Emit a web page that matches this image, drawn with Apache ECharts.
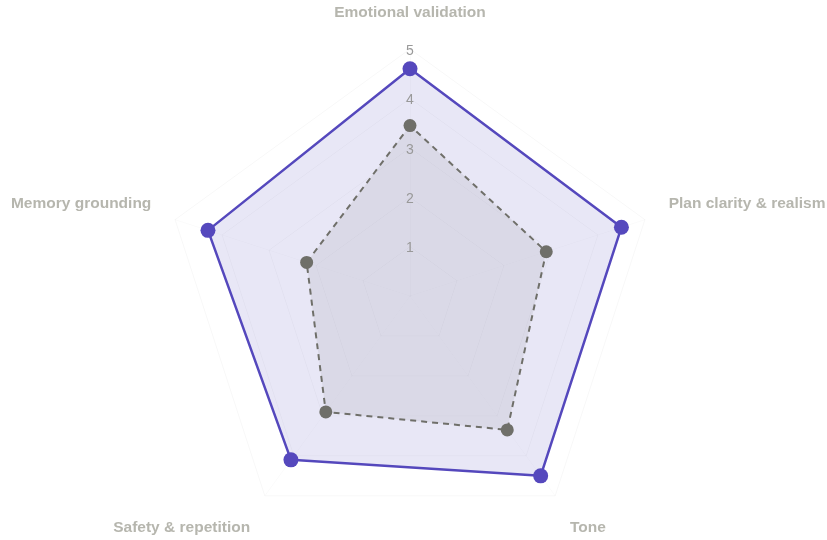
<!DOCTYPE html>
<html>
<head>
<meta charset="utf-8">
<script src="https://cdn.jsdelivr.net/npm/echarts@6/dist/echarts.min.js"></script>
<style>
    html,body{margin:0;padding:0;background:#fff;}
    #chart{width:827px;height:540px;}
</style>
</head>
<body>
<div id="chart"></div>
<script>
// clockwise from the top
var indicators = ['Emotional validation', 'Plan clarity & realism', 'Tone', 'Safety & repetition', 'Memory grounding'];
var nameStyles = ['top', 'side', 'bottom', 'bottom', 'side'];
var scoreValues = [4.6, 4.5, 4.5, 4.1, 4.3];
var baselineValues = [3.45, 2.9, 3.35, 2.9, 2.2];
var tickLabels = [1, 2, 3, 4, 5];
var maxValue = 5;

(function(){
    var mychart = echarts.init(document.getElementById('chart'));
    var cx = 410, cy = 296, r = 247;
    var textFont = 'Liberation Sans, Arial, sans-serif';
    // echarts lays radar axes out counter-clockwise, so walk the lists backwards after the first
    var order = [0, 4, 3, 2, 1];
    function ccw(arr){
        return order.map(function(i){ return arr[i]; });
    }

    mychart.setOption({
        animation: false,
        grid: {
            left: cx,
            top: cy - r + 2,
            width: 1,
            height: r,
            containLabel: false
        },
        xAxis: { type: 'value', show: false },
        yAxis: {
            type: 'value',
            min: 0,
            max: maxValue,
            interval: 1,
            axisLine: { show: false },
            axisTick: { show: false },
            splitLine: { show: false },
            axisLabel: {
                showMinLabel: false,
                align: 'center',
                margin: 0,
                color: '#999999',
                fontSize: 14,
                fontFamily: textFont,
                formatter: function(v){
                    return tickLabels.indexOf(v) >= 0 ? String(v) : '';
                }
            },
            z: 10
        },
        radar: {
            center: [cx, cy],
            radius: r,
            startAngle: 90,
            splitNumber: 5,
            shape: 'polygon',
            nameGap: 25,
            indicator: ccw(indicators).map(function(n){
                return { name: n, max: maxValue, min: 0 };
            }),
            axisName: {
                color: '#b6b6ae',
                fontSize: 15.5,
                fontWeight: 'bold',
                fontFamily: textFont,
                formatter: function(name){
                    var k = nameStyles[indicators.indexOf(name)];
                    return '{' + k + '|' + name + '}';
                },
                rich: {
                    top: { padding: [0, 0, 3, 0] },
                    side: { padding: [0, 0, 16, 0] },
                    bottom: { padding: [24, 0, 0, 0] }
                }
            },
            axisLine: { lineStyle: { color: 'rgba(0,0,0,0.02)' } },
            splitLine: { lineStyle: { color: 'rgba(0,0,0,0.03)', width: 1 } },
            splitArea: { show: false }
        },
        series: [{
            name: 'Scores',
            type: 'radar',
            z: 2,
            data: [{
                value: ccw(scoreValues),
                name: 'Score',
                symbol: 'circle',
                symbolSize: 15,
                itemStyle: { color: '#5548bd' },
                lineStyle: { color: '#5548bd', width: 2.5 },
                areaStyle: { color: 'rgba(85,72,189,0.19)' }
            }]
        }, {
            name: 'Baseline',
            type: 'radar',
            z: 3,
            data: [{
                value: ccw(baselineValues),
                name: 'Baseline',
                symbol: 'circle',
                symbolSize: 13,
                itemStyle: { color: '#6f6f69' },
                lineStyle: { color: '#6f6f69', width: 2, type: [6, 5] },
                areaStyle: { color: 'rgba(120,120,120,0.17)' }
            }]
        }]
    });
})();
</script>
</body>
</html>
